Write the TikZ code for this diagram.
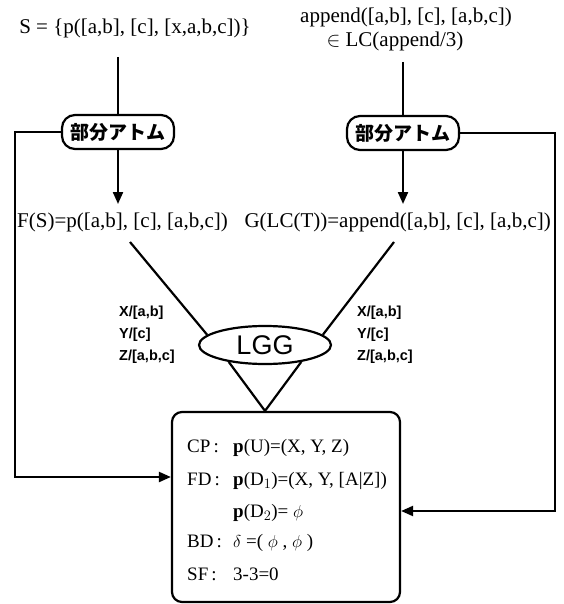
\documentclass[tikz,border=0pt]{standalone}
\usepackage{fontspec}
\setmainfont{Liberation Serif}
\newfontfamily\jp{Noto Sans CJK JP}
\newfontfamily\labfont{Liberation Sans}
\usetikzlibrary{arrows.meta,shapes.geometric,calc}
\begin{document}
\begin{tikzpicture}[x=1pt,y=-1pt,
  ln/.style={line width=2.2pt},
  arr/.style={ln,-{Triangle[length=12pt,width=10pt]}},
  txt/.style={inner sep=0pt,font=\fontsize{21}{24}\selectfont},
  part/.style={draw,line width=2.2pt,rounded corners=13pt,minimum width=112pt,minimum height=34pt,inner sep=0pt,font=\jp\bfseries\fontsize{19}{20}\selectfont},
  lab/.style={inner sep=0pt,anchor=west,font=\labfont\bfseries\fontsize{14.5}{16}\selectfont},
  row/.style={inner sep=0pt,anchor=base west,font=\fontsize{19}{21}\selectfont}]
\useasboundingbox (0,0) rectangle (563,604);
% top texts
\node[txt] (s) at (135,28) {S = \{p([a,b], [c], [x,a,b,c])\}};
\node[txt] (ap) at (406,17) {append([a,b], [c], [a,b,c])};
\node[txt] (lc) at (395,41) {$\in$ LC(append/3)};
% part boxes
\node[part] (pl) at (118,132) {部分アトム};
\node[part] (pr) at (403,133) {部分アトム};
\coordinate (st) at (118,57);
\coordinate (at) at (403,62);
\draw[ln] (st) -- (pl.north);
\draw[ln] (at) -- (pr.north);
% results
\node[txt,anchor=west] (fs) at (17,222) {F(S)=p([a,b], [c], [a,b,c])};
\node[txt,anchor=east] (gt) at (551,222) {G(LC(T))=append([a,b], [c], [a,b,c])};
\coordinate (fa) at (118,204);
\coordinate (ga) at (403,204);
\draw[arr] (pl.south) -- (fa);
\draw[arr] (pr.south) -- (ga);
% LGG
\node[draw,ellipse,line width=2.2pt,minimum width=132pt,minimum height=38pt,inner sep=0pt,font=\labfont\fontsize{27}{30}\selectfont] (lgg) at (265,345) {LGG};
\coordinate (ld) at (130,242);
\coordinate (rd) at (394,242);
\draw[ln] (ld) -- (lgg.170);
\draw[ln] (rd) -- (lgg.10);
% substitution labels
\node[lab] (l1) at (119,313) {X/[a,b]};
\node[lab] (l2) at (119,335) {Y/[c]};
\node[lab] (l3) at (119,357) {Z/[a,b,c]};
\node[lab] (r1) at (357,313) {X/[a,b]};
\node[lab] (r2) at (357,335) {Y/[c]};
\node[lab] (r3) at (357,357) {Z/[a,b,c]};
% result box
\node[draw,line width=2.2pt,rounded corners=10pt,minimum width=228pt,minimum height=190pt,inner sep=0pt] (res) at (286,507) {};
\draw[ln] (lgg.205) -- (lgg.south |- res.north) -- (lgg.335);
\node[row] (c1) at (187,452) {CP\,:};
\node[row] (v1) at (233,452) {\textbf{p}(U)=(X, Y, Z)};
\node[row] (c2) at (187,485) {FD\,:};
\node[row] (v2) at (233,485) {\textbf{p}(D$_1$)=(X, Y, [A|Z])};
\node[row] (v3) at (233,517) {\textbf{p}(D$_2$)= $\phi$};
\node[row] (c4) at (187,547) {BD\,:};
\node[row] (v4) at (233,547) {$\delta$ =( $\phi$ , $\phi$ )};
\node[row] (c5) at (187,580) {SF\,:};
\node[row] (v5) at (233,580) {3-3=0};
% feedback arrows
\coordinate (lcorner) at (15,477);
\coordinate (rcorner) at (555,511);
\draw[arr] (pl.west) -| (lcorner) -- (lcorner -| res.west);
\draw[arr] (pr.east) -| (rcorner) -- (rcorner -| res.east);
\end{tikzpicture}
\end{document}
